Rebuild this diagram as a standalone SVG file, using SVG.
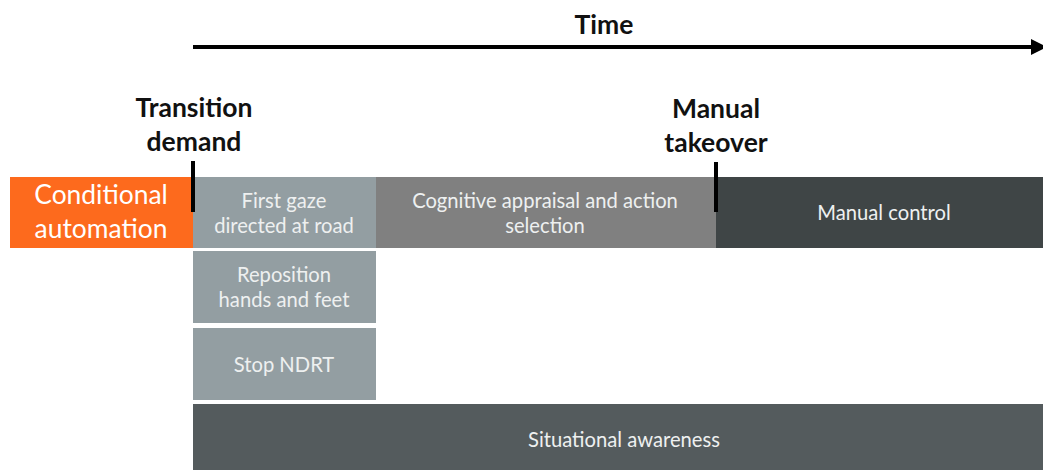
<svg xmlns="http://www.w3.org/2000/svg" width="1043" height="470" viewBox="0 0 1043 470">
<style>
.lbl{font-family:Lato,"Liberation Sans",sans-serif;font-weight:bold;font-size:26.5px;fill:#111;text-anchor:middle}
.box{font-family:Lato,"Liberation Sans",sans-serif;font-size:20.2px;fill:#eef0f0;text-anchor:middle}
.big{font-family:Lato,"Liberation Sans",sans-serif;font-size:26.4px;fill:#fff;text-anchor:middle}
</style>
<defs>
<marker id="ah" markerWidth="4" markerHeight="4" refX="2.5" refY="2" orient="auto" markerUnits="strokeWidth">
<path d="M0,0 L4,2 L0,4 Z" fill="#000"/>
</marker>
</defs>
<rect width="1043" height="470" fill="#fff"/>
<g id="connectors">
<line x1="193" y1="47" x2="1041" y2="47" stroke="#000" stroke-width="4" marker-end="url(#ah)"/>
</g>
<g id="time"><text class="lbl" x="604" y="34">Time</text></g>
<g id="transition"><text class="lbl" x="194" y="117">Transition</text><text class="lbl" x="194" y="151">demand</text></g>
<g id="takeover"><text class="lbl" x="716" y="118">Manual</text><text class="lbl" x="716" y="152">takeover</text></g>
<g id="conditional"><rect x="10" y="177" width="183" height="71" fill="#fd6a1d"/>
<text class="big" x="101" y="204">Conditional</text><text class="big" x="101" y="238">automation</text></g>
<g id="gaze"><rect x="193" y="177" width="183" height="71" fill="#939ea2"/>
<text class="box" x="284" y="208">First gaze</text><text class="box" x="284" y="233">directed at road</text></g>
<g id="cognitive"><rect x="376" y="177" width="340" height="71" fill="#808080"/>
<text class="box" x="545" y="208">Cognitive appraisal and action</text><text class="box" x="545" y="233">selection</text></g>
<g id="manual"><rect x="716" y="177" width="327" height="71" fill="#3f4546"/>
<text class="box" x="884" y="220">Manual control</text></g>
<g id="reposition"><rect x="193" y="251" width="183" height="72" fill="#939ea2"/>
<text class="box" x="284" y="282">Reposition</text><text class="box" x="284" y="307">hands and feet</text></g>
<g id="stop"><rect x="193" y="328" width="183" height="72" fill="#939ea2"/>
<text class="box" x="284" y="372">Stop NDRT</text></g>
<g id="awareness"><rect x="193" y="404" width="850" height="66" fill="#545b5d"/>
<text class="box" x="624" y="447">Situational awareness</text></g>
<g id="ticks"><line x1="193" y1="161" x2="193" y2="212" stroke="#000" stroke-width="4"/>
<line x1="716" y1="162" x2="716" y2="212" stroke="#000" stroke-width="4"/></g>
</svg>
